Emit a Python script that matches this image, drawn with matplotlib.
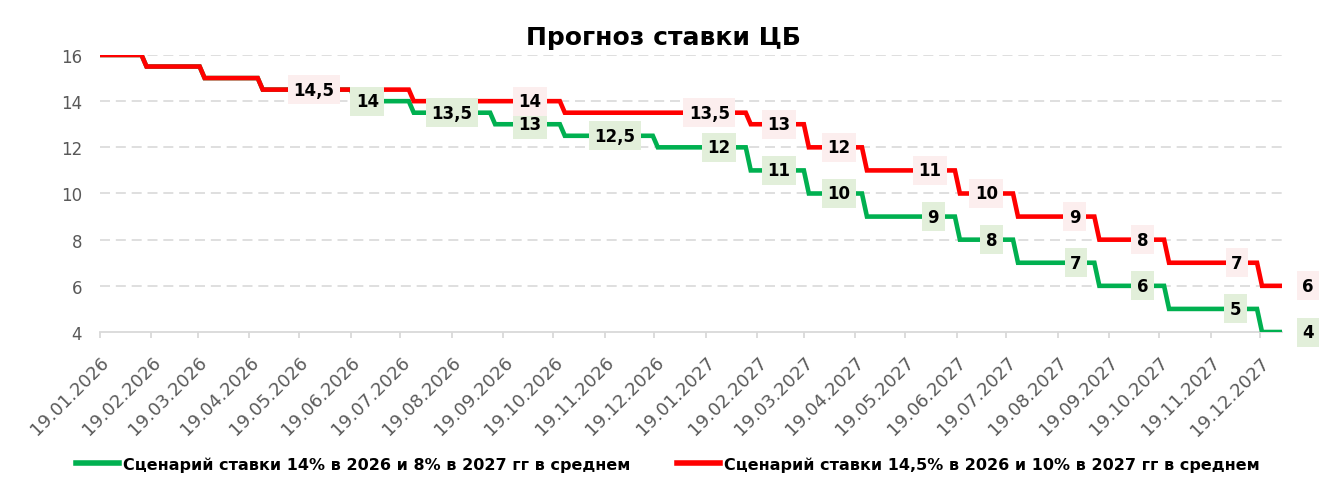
import matplotlib
matplotlib.use('Agg')
import matplotlib.pyplot as plt
import pandas as pd


start_date = '2026-01-19'
end_date = '2027-12-31'
start_rate = 16

# заседания ЦБ, новая ставка действует со следующего рабочего дня
meeting_dates = ['2026-02-13', '2026-03-20', '2026-04-24', '2026-06-19', '2026-07-24',
                 '2026-09-11', '2026-10-23', '2026-12-18',
                 '2027-02-12', '2027-03-19', '2027-04-23', '2027-06-18', '2027-07-23',
                 '2027-09-10', '2027-10-22', '2027-12-17']
green_rates = [15.5, 15, 14.5, 14, 13.5, 13, 12.5, 12, 11, 10, 9, 8, 7, 6, 5, 4]
red_rates = [15.5, 15, 14.5, 14.5, 14, 14, 13.5, 13.5, 13, 12, 11, 10, 9, 8, 7, 6]

# где стоят подписи значений
green_label_dates = ['2026-06-29', '2026-08-19', '2026-10-05', '2026-11-25', '2027-01-27',
                     '2027-03-04', '2027-04-09', '2027-06-05', '2027-07-10', '2027-08-30',
                     '2027-10-09', '2027-12-04']
red_label_dates = ['2026-05-28', '2026-10-05', '2027-01-21', '2027-03-04', '2027-04-09',
                   '2027-06-03', '2027-07-07', '2027-08-29', '2027-10-09', '2027-12-05']

green_name = 'Сценарий ставки 14% в 2026 и 8% в 2027 гг в среднем'
red_name = 'Сценарий ставки 14,5% в 2026 и 10% в 2027 гг в среднем'
title = 'Прогноз ставки ЦБ'

GREEN = '#00B050'
RED = '#FF0000'
GRID = '#D9D9D9'
TICK_TEXT = '#595959'


def build_series(rates):
    days = pd.bdate_range(start_date, end_date)
    meetings = pd.to_datetime(meeting_dates)
    values = []
    for d in days:
        n = (meetings < d).sum()
        values.append(start_rate if n == 0 else rates[n - 1])
    return pd.Series(values, index=days)


def fmt(v):
    return f'{v:g}'.replace('.', ',')


def add_labels(ax, series, label_dates, face):
    box = dict(boxstyle='square,pad=0.33', facecolor=face, edgecolor='none')
    for d in label_dates:
        d = pd.Timestamp(d)
        v = series.asof(d)
        ax.text(d, v, fmt(v), ha='center', va='center', fontsize=12,
                fontweight='bold', color='black', bbox=box, zorder=5)
    # последняя точка - подпись справа
    last_d = series.index[-1]
    last_v = series.iloc[-1]
    ax.annotate(fmt(last_v), (last_d, last_v), xytext=(20, 0), textcoords='offset points',
                ha='center', va='center', fontsize=12, fontweight='bold', color='black',
                bbox=box, zorder=5, annotation_clip=False)


def main():
    green = build_series(green_rates)
    red = build_series(red_rates)

    fig = plt.figure(figsize=(13.25, 4.89), dpi=100)
    ax = fig.add_axes([0.0755, 0.319, 0.892, 0.5665])

    ax.plot(green.index, green.values, color=GREEN, lw=3.3, label=green_name,
            solid_joinstyle='miter', zorder=3)
    ax.plot(red.index, red.values, color=RED, lw=3.3, label=red_name,
            solid_joinstyle='miter', zorder=4)

    add_labels(ax, green, green_label_dates, '#E2EFDA')
    add_labels(ax, red, red_label_dates, '#FCEEEE')

    ax.set_ylim(4, 16)
    ax.set_yticks(range(4, 17, 2))
    ax.set_xlim(pd.Timestamp(start_date), pd.Timestamp('2028-01-01'))
    ticks = pd.date_range(start_date, '2027-12-19', freq=pd.DateOffset(months=1))
    ax.set_xticks(ticks)
    ax.set_xticklabels([t.strftime('%d.%m.%Y') for t in ticks], rotation=45,
                       ha='right', va='top', rotation_mode='anchor')

    for y in range(6, 17, 2):
        ax.axhline(y, color=GRID, lw=1.2, linestyle=(0, (6, 3.5)), zorder=1)

    for side in ['top', 'right', 'left']:
        ax.spines[side].set_visible(False)
    ax.spines['bottom'].set_color(GRID)
    ax.spines['bottom'].set_linewidth(1.3)
    ax.tick_params(axis='x', colors=GRID, length=4, width=1.3, pad=11,
                   labelcolor=TICK_TEXT, labelsize=13)
    ax.tick_params(axis='y', length=0, pad=13, labelcolor=TICK_TEXT, labelsize=12)

    fig.text(0.5008, 0.908, title, ha='center', va='baseline', fontsize=18,
             fontweight='bold')

    leg = fig.legend(loc='center', bbox_to_anchor=(0.504, 0.049), ncol=2, frameon=False,
                     handlelength=2.7, handletextpad=0.25, columnspacing=2.9,
                     prop={'weight': 'bold', 'size': 11.5})
    for line in leg.get_lines():
        line.set_linewidth(4)

    fig.savefig('out.png', dpi=100)


if __name__ == '__main__':
    main()
